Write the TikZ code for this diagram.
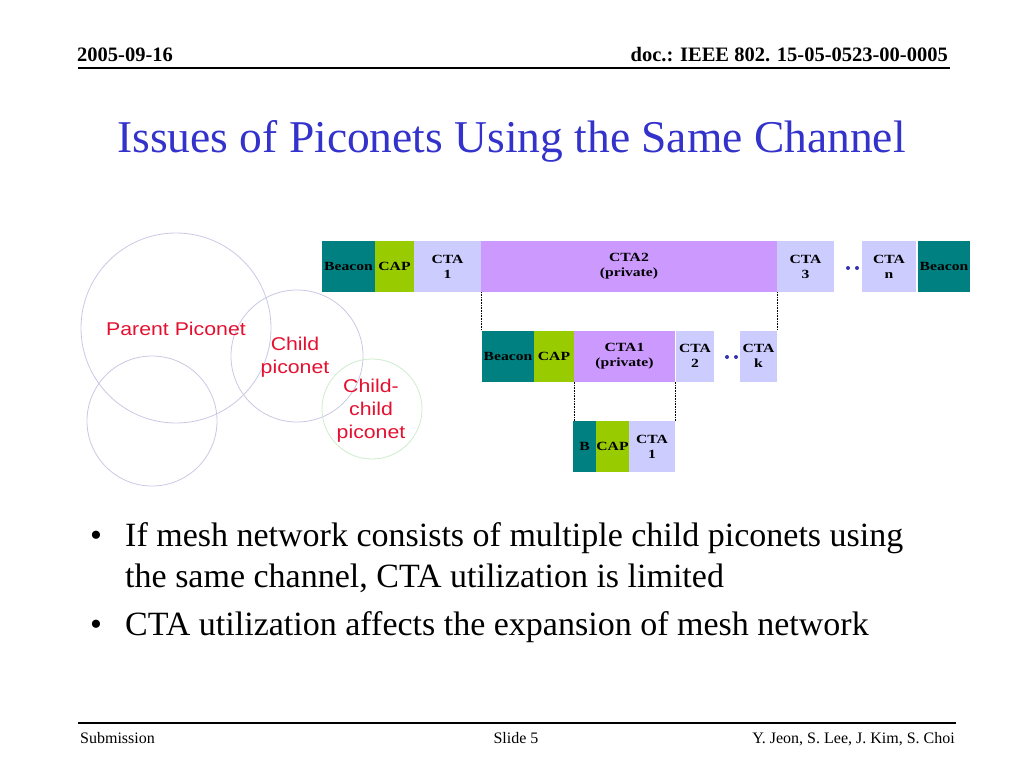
\documentclass[tikz,border=0pt]{standalone}
\usepackage{fontspec}
\setmainfont{Liberation Serif}
\newfontfamily\labelfont[FakeStretch=1.15]{Liberation Sans}
\newfontfamily\widefont[FakeStretch=1.25]{Liberation Serif}

\definecolor{beaconteal}{RGB}{0,128,128}
\definecolor{capgreen}{RGB}{153,204,0}
\definecolor{ctalav}{RGB}{204,204,255}
\definecolor{ctapriv}{RGB}{204,153,255}
\definecolor{titleblue}{RGB}{51,51,204}
\definecolor{dotblue}{RGB}{51,51,170}
\definecolor{labelred}{RGB}{228,16,48}
\definecolor{netgray}{RGB}{200,200,228}
\definecolor{netgreen}{RGB}{205,235,205}

\begin{document}
\begin{tikzpicture}[x=1pt, y=-1pt,
        slot/.style={inner sep=0pt, minimum height=51pt, align=center,
            font=\fontsize{12.5}{15}\widefont\bfseries},
        bcnbox/.style={slot, fill=beaconteal},
        capbox/.style={slot, fill=capgreen},
        ctabox/.style={slot, fill=ctalav},
        privbox/.style={slot, fill=ctapriv},
        net/.style={draw=netgray, line width=0.8pt},
        netlabel/.style={text=labelred, align=center, inner sep=0pt,
            font=\fontsize{18.5}{23}\labelfont},
        hdr/.style={inner sep=0pt, font=\fontsize{20.5}{24}\selectfont\bfseries},
        ftr/.style={inner sep=0pt, font=\fontsize{16}{19}\selectfont},
        bullet/.style={inner sep=0pt, anchor=base west, font=\fontsize{34}{41}\selectfont},
        link/.style={densely dotted, line width=0.6pt},
    ]
    \useasboundingbox (0,0) rectangle (1024,768);

    % header and footer
    \node[hdr, anchor=base west] (date) at (77,62) {2005-09-16};
    \node[hdr, anchor=base east] (docid) at (948,62) {doc.: IEEE 802. 15-05-0523-00-0005};
    \draw[line width=1.6pt] (78,68) -- (950,68);
    \draw[line width=1.4pt] (78,723) -- (956,723);
    \node[ftr, anchor=base west] (sub) at (80,743) {Submission};
    \node[ftr, anchor=base] (slide) at (516,743) {Slide 5};
    \node[ftr, anchor=base east] (names) at (955,743) {Y. Jeon, S. Lee, J. Kim, S. Choi};

    \node[anchor=base, inner sep=0pt, text=titleblue, font=\fontsize{45.5}{50}\selectfont]
        (title) at (511.5,152) {Issues of Piconets Using the Same Channel};

    % piconets
    \draw[net] (176,328) circle (95);
    \draw[net] (152,421) circle (65);
    \draw[net] (297,356) circle (66);
    \draw[net, draw=netgreen] (372,409) circle (50);
    \node[netlabel, anchor=base] (parent) at (176,335) {Parent Piconet};
    \node[netlabel, anchor=base] (child) at (295,373) {Child\\piconet};
    \node[netlabel, anchor=base] (cchild) at (371,438) {Child-\\child\\piconet};

    % superframe of the parent
    \node[bcnbox,  minimum width=53pt]  (p1) at (348.5,266.5) {Beacon};
    \node[capbox,  minimum width=39pt]  (p2) at (394.5,266.5) {CAP};
    \node[ctabox,  minimum width=67pt]  (p3) at (447.5,266.5) {CTA\\1};
    \node[privbox, minimum width=296pt] (p4) at (629,266.5)   {CTA2\\(private)};
    \node[ctabox,  minimum width=57pt]  (p5) at (805.5,266.5) {CTA\\3};
    \node[ctabox,  minimum width=54pt]  (p6) at (889,266.5)   {CTA\\n};
    \node[bcnbox,  minimum width=52pt]  (p7) at (944,266.5)   {Beacon};
    \fill[dotblue] (848,268) circle (2) (857,268) circle (2);

    % superframe of the child
    \node[bcnbox,  minimum width=52pt]  (c1) at (508,356)   {Beacon};
    \node[capbox,  minimum width=40pt]  (c2) at (554,356)   {CAP};
    \node[privbox, minimum width=101pt] (c3) at (624.5,356) {CTA1\\(private)};
    \node[ctabox,  minimum width=38pt]  (c4) at (695,356)   {CTA\\2};
    \node[ctabox,  minimum width=37pt]  (c5) at (758.5,356) {CTA\\k};
    \fill[dotblue] (727,357) circle (2) (736,357) circle (2);

    % superframe of the child-child
    \node[bcnbox, minimum width=23pt] (g1) at (584.5,446.5) {B};
    \node[capbox, minimum width=33pt] (g2) at (612.5,446.5) {CAP};
    \node[ctabox, minimum width=46pt] (g3) at (652,446.5)   {CTA\\1};

    \draw[link] (p4.south west) -- (p4.south west |- c1.north);
    \draw[link] (p4.south east) -- (c5.north east);
    \draw[link] (c3.south west) -- (c3.south west |- g1.north);
    \draw[link] (c3.south east) -- (g3.north east);

    % bullets
    \node[bullet] (b1) at (90,546) {\textbullet};
    \node[bullet] (t1) at (125,546) {If mesh network consists of multiple child piconets using};
    \node[bullet] (t2) at (125,587) {the same channel, CTA utilization is limited};
    \node[bullet] (b2) at (90,635) {\textbullet};
    \node[bullet] (t3) at (125,635) {CTA utilization affects the expansion of mesh network};
\end{tikzpicture}
\end{document}
